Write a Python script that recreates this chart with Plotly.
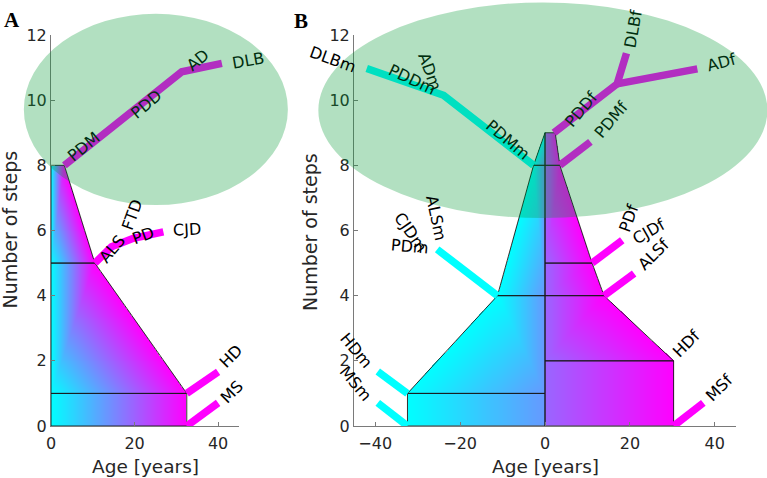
import numpy as np
import plotly.graph_objects as go

W, H = 767, 478

# ---------------- data ----------------
# Panel A: outline of the onset-age profile (age at right edge for each step level)
A_steps = [0, 1, 5, 8]
A_ages = [32.5, 32.5, 10.5, 3.2]

# Panel A branches (age, steps)
A_main_age = [3.2, 31.3, 40.9]
A_main_steps = [8.0, 10.87, 11.13]
A_als_age = [10.5, 14.5, 19.7, 26.9]
A_als_steps = [5.0, 5.5, 5.76, 5.96]
A_hd_age = [32.5, 40.0]
A_hd_steps = [1.0, 1.66]
A_ms_age = [32.5, 40.0]
A_ms_steps = [0.0, 0.71]

# Panel B: male (negative ages) and female profiles
Bm_steps = [0, 1, 4, 8, 9]
Bm_ages = [-32.4, -32.4, -11.2, -2.7, 0.0]
Bf_steps = [0, 2, 4, 5, 8, 9]
Bf_ages = [30.3, 30.3, 13.9, 11.1, 3.5, 2.4]

# Panel B branches
Bm_upper_age = [-2.7, -23.9, -42.0]
Bm_upper_steps = [8.0, 10.15, 10.97]
Bm_pd_age = [-11.2, -25.4]
Bm_pd_steps = [4.0, 5.42]
Bm_hd_age = [-32.4, -39.4]
Bm_hd_steps = [1.0, 1.67]
Bm_ms_age = [-32.4, -39.4]
Bm_ms_steps = [0.0, 0.71]

Bf_pdd_age = [2.1, 17.0, 19.2]
Bf_pdd_steps = [9.0, 10.5, 11.44]
Bf_ad_age = [17.0, 35.9]
Bf_ad_steps = [10.5, 10.96]
Bf_pdm_age = [3.5, 10.7]
Bf_pdm_steps = [8.0, 8.72]
Bf_pd_age = [11.1, 18.2]
Bf_pd_steps = [5.0, 5.7]
Bf_als_age = [13.9, 21.0]
Bf_als_steps = [4.0, 4.68]
Bf_ms_age = [30.3, 37.3]
Bf_ms_steps = [0.0, 0.71]

# labels: (text, age, steps, angle)
A_labels = [
    ("PDM", 7.9, 8.57, -40), ("PDD", 22.7, 9.88, -40), ("AD", 35.0, 11.23, -40),
    ("DLB", 47.2, 11.23, -10), ("ALS", 14.5, 5.43, -50), ("FTD", 19.5, 6.48, -70),
    ("PD", 22.1, 5.86, -20), ("CJD", 32.6, 6.02, -3), ("HD", 43.0, 2.13, -45),
    ("MS", 43.4, 1.05, -45),
]
B_labels = [
    ("DLBm", -50.0, 11.26, 20), ("ADm", -27.2, 10.87, 70), ("PDDm", -31.3, 10.62, 25),
    ("PDMm", -8.9, 8.78, 40), ("ALSm", -25.6, 6.37, 78), ("CJDm", -31.6, 5.95, 55),
    ("PDm", -31.9, 5.5, 5), ("HDm", -44.5, 2.31, 50), ("MSm", -44.6, 1.31, 50),
    ("DLBf", 20.7, 12.18, -80), ("ADf", 41.5, 11.15, -15), ("PDDf", 8.5, 9.72, -50),
    ("PDMf", 15.6, 9.42, -50), ("PDf", 19.7, 6.37, -70), ("CJDf", 24.5, 5.96, -30),
    ("ALSf", 25.6, 5.25, -45), ("HDf", 33.3, 2.54, -45), ("MSf", 41.1, 1.19, -45),
]

# highlighted region (ellipse) in data units: x0, x1, y0, y1
A_ell = (-6.5, 56.7, 6.78, 12.65)
B_ell = (-53.4, 52.4, 6.38, 13.0)

# ---------------- layout geometry ----------------
A_xr, B_xr, Y_r = (0, 45), (-45, 45), (0, 12)
A_dom = (51 / W, 239 / W)
B_dom = (354 / W, 736 / W)
Y_dom = (1 - 426 / H, 1 - 35 / H)

CYAN = "rgb(0,255,255)"
MAG = "rgb(255,0,255)"
GREEN = "rgb(0,153,51)"

fig = go.Figure()


def bands(center, steps, ages, t_in, t_out):
    polys = []
    for i in range(len(steps) - 1):
        polys.append([(center, steps[i], t_in), (ages[i], steps[i], t_out),
                      (ages[i + 1], steps[i + 1], t_out), (center, steps[i + 1], t_in)])
    return polys


def raster(polys, xs, ys):
    X, Y = np.meshgrid(xs, ys)
    Z = np.full(X.shape, np.nan)
    for poly in polys:
        p0 = poly[0]
        for k in range(1, len(poly) - 1):
            p1, p2 = poly[k], poly[k + 1]
            det = (p1[1] - p2[1]) * (p0[0] - p2[0]) + (p2[0] - p1[0]) * (p0[1] - p2[1])
            if abs(det) < 1e-9:
                continue
            a = ((p1[1] - p2[1]) * (X - p2[0]) + (p2[0] - p1[0]) * (Y - p2[1])) / det
            b = ((p2[1] - p0[1]) * (X - p2[0]) + (p0[0] - p2[0]) * (Y - p2[1])) / det
            c = 1 - a - b
            inside = (a >= -1e-6) & (b >= -1e-6) & (c >= -1e-6)
            val = a * p0[2] + b * p1[2] + c * p2[2]
            Z = np.where(inside & np.isnan(Z), val, Z)
    return Z


def add_profile(polys, xs, ys, xa, ya):
    Z = raster(polys, xs, ys)
    fig.add_trace(go.Heatmap(x=xs, y=ys, z=Z, zmin=0, zmax=1, showscale=False,
                             colorscale=[[0, CYAN], [1, MAG]], hoverinfo="skip",
                             xaxis=xa, yaxis=ya))
    for poly in polys:
        px = [p[0] for p in poly] + [poly[0][0]]
        py = [p[1] for p in poly] + [poly[0][1]]
        fig.add_trace(go.Scatter(x=px, y=py, mode="lines", xaxis=xa, yaxis=ya,
                                 line=dict(color="rgb(25,25,25)", width=0.9),
                                 hoverinfo="skip", showlegend=False))


def add_line(xv, yv, color, xa, ya):
    fig.add_trace(go.Scatter(x=xv, y=yv, mode="lines", xaxis=xa, yaxis=ya,
                             line=dict(color=color, width=7.5),
                             hoverinfo="skip", showlegend=False))


# Panel A profile
A_polys = bands(0.0, A_steps, A_ages, 0.0, 1.0)
add_profile(A_polys, np.arange(0.12, 33, 0.24), np.arange(0.015, 8.0, 0.03), "x", "y")
# Panel B profiles
B_polys = bands(0.0, Bm_steps, Bm_ages, 0.4, 0.0) + bands(0.0, Bf_steps, Bf_ages, 0.6, 1.0)
add_profile(B_polys, np.arange(-32.9, 31, 0.24), np.arange(0.015, 9.0, 0.03), "x2", "y2")

# branches
for xv, yv in [(A_main_age, A_main_steps), (A_als_age, A_als_steps),
               (A_hd_age, A_hd_steps), (A_ms_age, A_ms_steps)]:
    add_line(xv, yv, MAG, "x", "y")
for xv, yv in [(Bm_upper_age, Bm_upper_steps), (Bm_pd_age, Bm_pd_steps),
               (Bm_hd_age, Bm_hd_steps), (Bm_ms_age, Bm_ms_steps)]:
    add_line(xv, yv, CYAN, "x2", "y2")
for xv, yv in [(Bf_pdd_age, Bf_pdd_steps), (Bf_ad_age, Bf_ad_steps), (Bf_pdm_age, Bf_pdm_steps),
               (Bf_pd_age, Bf_pd_steps), (Bf_als_age, Bf_als_steps), (Bf_ms_age, Bf_ms_steps)]:
    add_line(xv, yv, MAG, "x2", "y2")


def frac(v, r):
    return (v - r[0]) / (r[1] - r[0])


def in_ell(x, y, e):
    cx, cy = (e[0] + e[1]) / 2, (e[2] + e[3]) / 2
    rx, ry = (e[1] - e[0]) / 2, (e[3] - e[2]) / 2
    return ((x - cx) / rx) ** 2 + ((y - cy) / ry) ** 2 < 1


annotations = []
for labels, xr, ell, xa, ya in [(A_labels, A_xr, A_ell, "x", "y"),
                                (B_labels, B_xr, B_ell, "x2", "y2")]:
    for txt, x, y, ang in labels:
        col = "rgb(0,46,15)" if in_ell(x, y, ell) else "black"
        annotations.append(dict(text=txt, x=frac(x, xr), y=frac(y, Y_r),
                                xref=xa + " domain", yref=ya + " domain",
                                showarrow=False, textangle=ang, xanchor="center",
                                yanchor="middle",
                                font=dict(family="DejaVu Sans", size=16, color=col)))


def pa(txt, px, py, size, ang=0, family="DejaVu Sans", color="#262626"):
    annotations.append(dict(text=txt, x=px / W, y=1 - py / H, xref="paper", yref="paper",
                            showarrow=False, textangle=ang, xanchor="center",
                            yanchor="middle", font=dict(family=family, size=size, color=color)))


pa("Age [years]", 145, 466, 18.5)
pa("Age [years]", 545, 466, 18.5)
pa("Number of steps", 9.5, 230, 19, -90)
pa("Number of steps", 310, 232, 19, -90)
pa("<b>A</b>", 11.5, 19.5, 21, family="Liberation Serif", color="black")
pa("<b>B</b>", 300.5, 21.5, 21, family="Liberation Serif", color="black")

shapes = []
for e, xr, xa, ya in [(A_ell, A_xr, "x", "y"), (B_ell, B_xr, "x2", "y2")]:
    shapes.append(dict(type="circle", xref=xa + " domain", yref=ya + " domain",
                       x0=frac(e[0], xr), x1=frac(e[1], xr),
                       y0=frac(e[2], Y_r), y1=frac(e[3], Y_r),
                       fillcolor=GREEN, opacity=0.3, line=dict(width=0), layer="above"))

axis_common = dict(showgrid=False, zeroline=False, showline=True, linecolor="#7a7a7a",
                   linewidth=1, ticks="inside", ticklen=4, tickcolor="#7a7a7a",
                   tickfont=dict(family="DejaVu Sans", size=16, color="#262626"),
                   fixedrange=True, automargin=False)

fig.update_layout(
    width=W, height=H, autosize=False,
    margin=dict(l=0, r=0, t=0, b=0, pad=0, autoexpand=False),
    paper_bgcolor="white", plot_bgcolor="white",
    showlegend=False,
    xaxis=dict(domain=list(A_dom), range=list(A_xr), anchor="y",
               tickvals=[0, 20, 40], ticklabelstandoff=3, **axis_common),
    yaxis=dict(domain=list(Y_dom), range=list(Y_r), anchor="x",
               tickvals=list(range(0, 13, 2)), ticklabelstandoff=0, **axis_common),
    xaxis2=dict(domain=list(B_dom), range=list(B_xr), anchor="y2",
                tickvals=[-40, -20, 0, 20, 40], ticklabelstandoff=3, **axis_common),
    yaxis2=dict(domain=list(Y_dom), range=list(Y_r), anchor="x2",
                tickvals=list(range(0, 13, 2)), ticklabelstandoff=0, **axis_common),
    annotations=annotations,
    shapes=shapes,
)

fig.write_html("out.html", config={"displayModeBar": False},
               post_script="document.body.style.margin='0';")
